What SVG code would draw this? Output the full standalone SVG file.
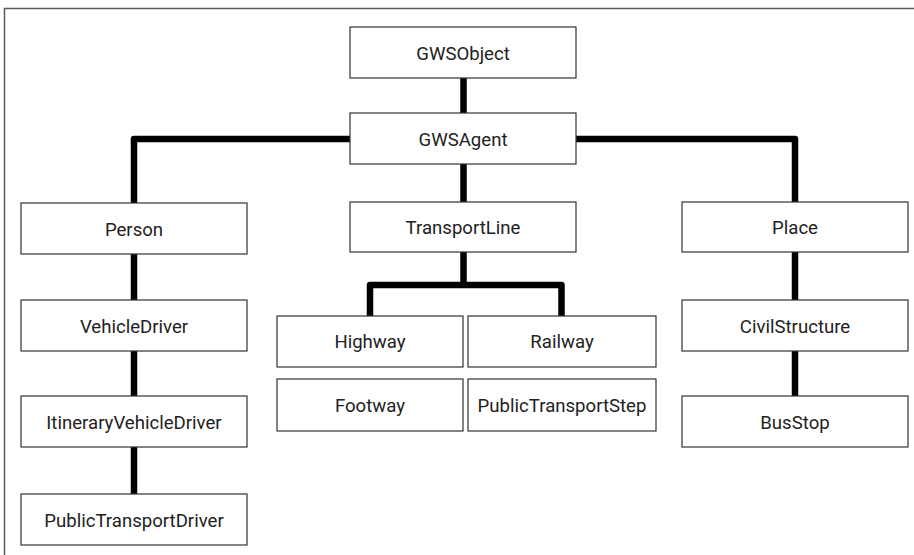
<svg xmlns="http://www.w3.org/2000/svg" width="914" height="555" viewBox="0 0 914 555">
  <style>
    .box { fill: #ffffff; stroke: #333333; stroke-width: 1.2; }
    .label { font-family: Roboto, "Liberation Sans", sans-serif; font-size: 18.6px; fill: #222222; text-anchor: middle; }
    .link { fill: none; stroke: #000000; stroke-width: 6.5; stroke-linejoin: round; }
    .frame { fill: none; stroke: #5a5a5a; stroke-width: 1.5; }
  </style>
  <rect x="0" y="0" width="914" height="555" fill="#ffffff"/>
  <path class="frame" d="M4.5,555 V8.5 H914"/>

  <g id="connectors">
    <path class="link" d="M463.5,78 V113"/>
    <path class="link" d="M350,139 H134 V203"/>
    <path class="link" d="M576,139 H795 V202"/>
    <path class="link" d="M463.5,164 V202"/>
    <path class="link" d="M134,254 V300"/>
    <path class="link" d="M134,351 V396"/>
    <path class="link" d="M134,447 V494"/>
    <path class="link" d="M463.5,252 V285"/>
    <path class="link" d="M370,316 V285 H561.5 V316"/>
    <path class="link" d="M795,252 V300"/>
    <path class="link" d="M795,351 V396"/>
  </g>

  <g id="GWSObject">
    <rect class="box" x="350" y="27" width="226" height="51"/>
    <text class="label" x="463" y="59.5">GWSObject</text>
  </g>
  <g id="GWSAgent">
    <rect class="box" x="350" y="113" width="226" height="51"/>
    <text class="label" x="463" y="145.5">GWSAgent</text>
  </g>
  <g id="Person">
    <rect class="box" x="21" y="203" width="226" height="51"/>
    <text class="label" x="134" y="235.5">Person</text>
  </g>
  <g id="TransportLine">
    <rect class="box" x="350" y="202" width="226" height="50"/>
    <text class="label" x="463" y="234">TransportLine</text>
  </g>
  <g id="Place">
    <rect class="box" x="682" y="202" width="226" height="50"/>
    <text class="label" x="795" y="234">Place</text>
  </g>
  <g id="VehicleDriver">
    <rect class="box" x="21" y="300" width="226" height="51"/>
    <text class="label" x="134" y="332.5">VehicleDriver</text>
  </g>
  <g id="Highway">
    <rect class="box" x="277" y="316" width="186" height="51"/>
    <text class="label" x="370" y="348">Highway</text>
  </g>
  <g id="Railway">
    <rect class="box" x="468" y="316" width="188" height="51"/>
    <text class="label" x="562" y="348">Railway</text>
  </g>
  <g id="CivilStructure">
    <rect class="box" x="682" y="300" width="226" height="51"/>
    <text class="label" x="795" y="332.5">CivilStructure</text>
  </g>
  <g id="ItineraryVehicleDriver">
    <rect class="box" x="21" y="396" width="226" height="51"/>
    <text class="label" x="134" y="428.5">ItineraryVehicleDriver</text>
  </g>
  <g id="Footway">
    <rect class="box" x="277" y="379" width="186" height="52"/>
    <text class="label" x="370" y="412">Footway</text>
  </g>
  <g id="PublicTransportStep">
    <rect class="box" x="468" y="379" width="188" height="52"/>
    <text class="label" x="562" y="412">PublicTransportStep</text>
  </g>
  <g id="BusStop">
    <rect class="box" x="682" y="396" width="226" height="51"/>
    <text class="label" x="795" y="428.5">BusStop</text>
  </g>
  <g id="PublicTransportDriver">
    <rect class="box" x="21" y="494" width="226" height="51"/>
    <text class="label" x="134" y="526.5">PublicTransportDriver</text>
  </g>
</svg>
